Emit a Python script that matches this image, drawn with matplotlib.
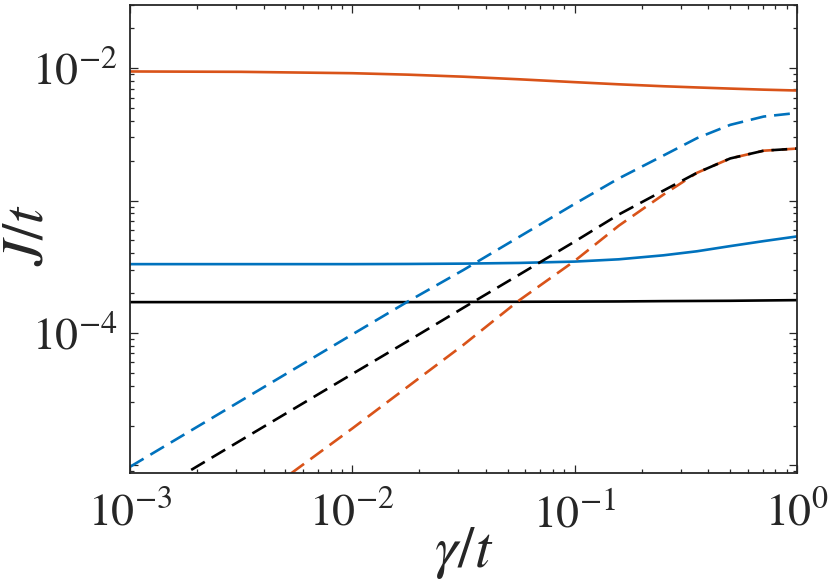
import numpy as np
import matplotlib
matplotlib.use("Agg")
import matplotlib.pyplot as plt
from matplotlib import ticker

plt.rcParams['font.family'] = 'serif'
plt.rcParams['font.serif'] = ['STIXGeneral', 'Liberation Serif', 'DejaVu Serif']
plt.rcParams['mathtext.fontset'] = 'stix'

# gamma/t sample points
gamma = [0.001, 0.00316, 0.01, 0.0178, 0.0316, 0.0562, 0.1,
         0.158, 0.251, 0.355, 0.501, 0.708, 1.0]

# solid lines
J_orange = [9.44e-3, 9.38e-3, 9.16e-3, 8.93e-3, 8.62e-3, 8.24e-3, 7.84e-3,
            7.55e-3, 7.30e-3, 7.15e-3, 7.01e-3, 6.88e-3, 6.78e-3]
J_blue = [3.31e-4, 3.31e-4, 3.31e-4, 3.32e-4, 3.34e-4, 3.38e-4, 3.46e-4,
          3.60e-4, 3.86e-4, 4.14e-4, 4.53e-4, 4.94e-4, 5.36e-4]
J_black = [1.71e-4, 1.71e-4, 1.71e-4, 1.71e-4, 1.715e-4, 1.72e-4, 1.725e-4,
           1.73e-4, 1.74e-4, 1.745e-4, 1.75e-4, 1.76e-4, 1.77e-4]

# dashed lines
J_blue_d = [9.75e-6, 3.08e-5, 9.75e-5, 1.73e-4, 2.99e-4, 5.31e-4, 9.44e-4,
            1.47e-3, 2.19e-3, 2.96e-3, 3.73e-3, 4.31e-3, 4.59e-3]
J_orange_d = [1.07e-6, 4.6e-6, 1.9e-5, 3.94e-5, 8.13e-5, 1.76e-4, 3.5e-4,
              6.46e-4, 1.11e-3, 1.62e-3, 2.08e-3, 2.38e-3, 2.47e-3]
J_black_d = [4.9e-6, 1.55e-5, 4.9e-5, 8.7e-5, 1.55e-4, 2.75e-4, 4.9e-4,
             7.85e-4, 1.19e-3, 1.62e-3, 2.08e-3, 2.38e-3, 2.47e-3]

blue = '#0072BD'
orange = '#D95319'
axcol = '#262626'

fig = plt.figure(figsize=(8.3, 5.86), dpi=100)
ax = fig.add_axes([0.1566, 0.1933, 0.8036, 0.7982])

lw = 1.9
dash = (0, (6, 3))
ax.plot(gamma, J_orange, color=orange, lw=lw)
ax.plot(gamma, J_blue, color=blue, lw=lw)
ax.plot(gamma, J_black, color='k', lw=lw)
ax.plot(gamma, J_blue_d, color=blue, lw=lw, ls=dash)
ax.plot(gamma, J_orange_d, color=orange, lw=lw, ls=dash)
ax.plot(gamma, J_black_d, color='k', lw=lw, ls=dash)

ax.set_xscale('log')
ax.set_yscale('log')
ax.set_xlim(1e-3, 1)
ax.set_ylim(8.8e-6, 3e-2)

ax.set_xticks([1e-3, 1e-2, 1e-1, 1e0])
ax.set_yticks([1e-5, 1e-4, 1e-3, 1e-2], ['', r'$10^{-4}$', '', r'$10^{-2}$'])
ax.xaxis.set_minor_locator(ticker.LogLocator(base=10, subs=np.arange(2, 10), numticks=50))
ax.yaxis.set_minor_locator(ticker.LogLocator(base=10, subs=np.arange(2, 10), numticks=50))
ax.xaxis.set_minor_formatter(ticker.NullFormatter())
ax.yaxis.set_minor_formatter(ticker.NullFormatter())

ax.tick_params(which='both', direction='in', top=True, right=True,
               colors=axcol, width=0.9, labelsize=33)
ax.tick_params(which='major', length=5.5)
ax.tick_params(which='minor', length=3)
ax.tick_params(axis='x', which='major', pad=15)
ax.tick_params(axis='y', which='major', pad=9)
for s in ax.spines.values():
    s.set_linewidth(1.3)
    s.set_color(axcol)

ax.set_xlabel(r'$\gamma/t$', fontsize=42, color=axcol)
ax.set_ylabel(r'$J/t$', fontsize=42, color=axcol)
ax.xaxis.set_label_coords(0.5, -0.112)
ax.yaxis.set_label_coords(-0.112, 0.508)

fig.savefig('out.png', dpi=100)
